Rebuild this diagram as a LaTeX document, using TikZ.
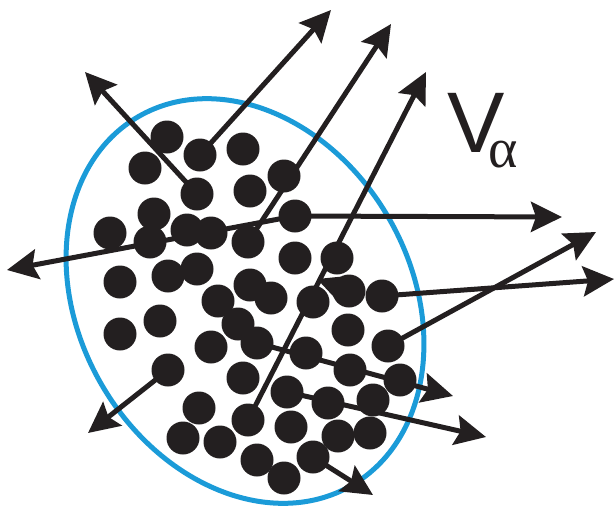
\documentclass[tikz,border=0pt]{standalone}
\usepackage{fontspec}
\setmainfont{Liberation Sans}
\newfontfamily\greekserif{Liberation Serif}
\usetikzlibrary{arrows.meta}
\definecolor{ringblue}{HTML}{1B9BD8}
\definecolor{inkblack}{HTML}{231F20}

\begin{document}
\begin{tikzpicture}[
    x=1pt, y=-1pt,
    particle/.style={circle, fill=inkblack, inner sep=0pt, minimum size=33pt},
    ray/.style={-{Stealth[length=31pt, width=30pt, inset=5pt]}, line width=5pt, draw=inkblack},
    boundary/.style={line width=5pt, draw=ringblue},
]
    \useasboundingbox (0,0) rectangle (615,506);
    % volume
    \draw[boundary, rotate around={30:(245,301)}] (245,301) ellipse [x radius=166, y radius=213];
    \node[anchor=base west, inner sep=0pt, text=inkblack, font=\fontsize{86}{86}\selectfont] (vlabel) at (447,152)
        {V\kern-16pt\raisebox{-15pt}{\greekserif\fontsize{56}{56}\selectfont α}};

    % particles
    \foreach \n/\x/\y in {1/167/137, 2/200/155, 3/243/149, 4/145/168, 5/197/194,
        6/250/191, 7/284/176, 8/154/214, 9/110/233, 10/150/242,
        11/187/230, 12/211/233, 13/248/242, 14/295/216, 15/295/258,
        16/337/258, 17/120/282, 18/168/276, 19/197/269, 20/218/301,
        21/250/285, 22/271/298, 23/313/302, 24/349/291, 25/382/296,
        26/348/330, 27/388/346, 28/120/334, 29/160/321, 30/211/347,
        31/238/324, 32/257/343, 33/306/353, 34/350/370, 35/400/380,
        36/168/370, 37/243/378, 38/287/392, 39/328/403, 40/373/400,
        41/199/408, 42/183/438, 43/220/442, 44/248/420, 45/291/427,
        46/338/436, 47/370/433, 48/257/460, 49/284/478, 50/313/457}
        \node[particle] (d\n) at (\x,\y) {};

    % velocity tips
    \coordinate (tA) at (85,72);
    \coordinate (tB) at (331,10);
    \coordinate (tC) at (391,24);
    \coordinate (tD) at (426,72);
    \coordinate (tE) at (562,217);
    \coordinate (tF) at (7,270);
    \coordinate (tG) at (614,279);
    \coordinate (tH) at (596,232);
    \coordinate (tI) at (453,396);
    \coordinate (tJ) at (486,437);
    \coordinate (tK) at (373,495);
    \coordinate (tL) at (88,433);
    \coordinate (tM) at (317,279);

    \foreach \s/\t in {d5/tA, d2/tB, d13/tC, d44/tD, d14/tE, d14/tF, d25/tG,
        d27/tH, d32/tI, d38/tJ, d50/tK, d36/tL, d24/tM}
        \draw[ray] (\s.center) -- (\t);
\end{tikzpicture}
\end{document}
